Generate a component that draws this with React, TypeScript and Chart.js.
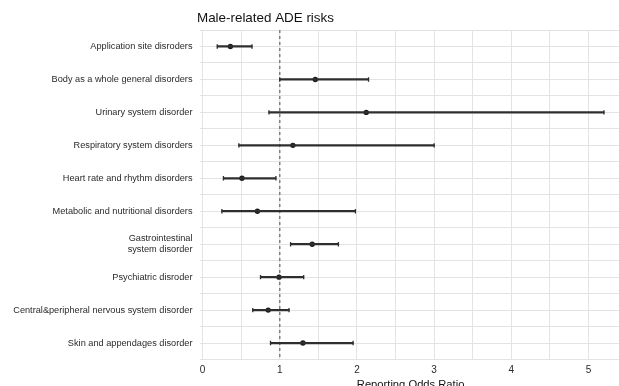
import React, { useEffect, useRef } from "react";
import { Chart, registerables } from "chart.js";

Chart.register(...registerables);

const categories: (string | string[])[] = [
  "Application site disroders",
  "Body as a whole general disorders",
  "Urinary system disorder",
  "Respiratory system disorders",
  "Heart rate and rhythm disorders",
  "Metabolic and nutritional disorders",
  ["Gastrointestinal", "system disorder"],
  "Psychiatric disroder",
  "Central&peripheral nervous system disorder",
  "Skin and appendages disorder",
];
const oddsRatio = [0.36, 1.46, 2.12, 1.17, 0.51, 0.71, 1.42, 0.99, 0.85, 1.3];
const lowerCI = [0.19, 1.0, 0.86, 0.47, 0.27, 0.25, 1.14, 0.75, 0.65, 0.88];
const upperCI = [0.64, 2.15, 5.2, 3.0, 0.95, 1.98, 1.76, 1.31, 1.12, 1.95];
const xTickLabels = [0, 1, 2, 3, 4, 5];
const referenceLine = 1;
const titleText = "Male-related ADE risks";
const xTitle = "Reporting Odds Ratio";

const W = 627;
const H = 392;
const FONT = "'Liberation Sans', Arial, sans-serif";

export default function App() {
  const ref = useRef<HTMLCanvasElement | null>(null);

  useEffect(() => {
    if (!ref.current) return;
    const refLinePlugin = {
      id: "refLine",
      beforeDatasetsDraw(chart: any) {
        const { ctx, chartArea, scales } = chart;
        const x = scales.x.getPixelForValue(referenceLine);
        ctx.save();
        ctx.strokeStyle = "#7a7a7a";
        ctx.lineWidth = 1.4;
        ctx.setLineDash([3, 3]);
        ctx.beginPath();
        ctx.moveTo(x, chartArea.top);
        ctx.lineTo(x, chartArea.bottom);
        ctx.stroke();
        ctx.restore();
      },
    };
    const titlePlugin = {
      id: "leftTitle",
      afterDraw(chart: any) {
        const { ctx, chartArea } = chart;
        ctx.save();
        ctx.fillStyle = "#111";
        ctx.font = `13.4px ${FONT}`;
        ctx.textAlign = "left";
        ctx.textBaseline = "alphabetic";
        ctx.fillText(titleText, chartArea.left - 2.5, 22);
        ctx.restore();
      },
    };

    const chart = new Chart(ref.current, {
      type: "bar",
      data: {
        labels: categories as any,
        datasets: [
          {
            type: "bar",
            data: lowerCI.map((lo, i) => [lo, upperCI[i]]) as any,
            backgroundColor: "#2e2e2e",
            borderWidth: 0,
            barThickness: 1.6,
            xAxisID: "x",
            yAxisID: "y",
          } as any,
          {
            type: "line",
            indexAxis: "y",
            data: lowerCI,
            showLine: false,
            pointStyle: "line",
            rotation: 90,
            pointRadius: 2.2,
            borderWidth: 1.3,
            borderColor: "#2e2e2e",
            xAxisID: "x",
            yAxisID: "y",
          } as any,
          {
            type: "line",
            indexAxis: "y",
            data: upperCI,
            showLine: false,
            pointStyle: "line",
            rotation: 90,
            pointRadius: 2.2,
            borderWidth: 1.3,
            borderColor: "#2e2e2e",
            xAxisID: "x",
            yAxisID: "y",
          } as any,
          {
            type: "line",
            indexAxis: "y",
            data: oddsRatio,
            showLine: false,
            pointStyle: "circle",
            pointRadius: 2.7,
            borderWidth: 0,
            backgroundColor: "#1e1e1e",
            borderColor: "#1e1e1e",
            xAxisID: "x",
            yAxisID: "y",
          } as any,
        ],
      },
      options: {
        indexAxis: "y",
        responsive: false,
        animation: false,
        devicePixelRatio: 1,
        layout: { padding: { top: 30, right: 0, bottom: 0, left: 0 } },
        plugins: {
          legend: { display: false },
          tooltip: { enabled: false },
          title: { display: false },
        },
        scales: {
          x: {
            type: "linear",
            min: -0.04,
            max: 5.43,
            border: { display: false },
            grid: { color: "#e3e3e3", lineWidth: 1, drawTicks: false },
            afterBuildTicks: (s: any) => {
              const t = [];
              for (let v = 0; v <= 5.4; v += 0.5) t.push({ value: v });
              s.ticks = t;
            },
            afterFit: (s: any) => {
              s.height = H - 359.5;
            },
            ticks: {
              padding: 5,
              color: "#2a2a2a",
              font: { family: FONT, size: 10 },
              callback: (v: any) =>
                xTickLabels.includes(Number(v)) ? String(v) : "",
            },
            title: {
              display: true,
              text: xTitle,
              color: "#111",
              font: { family: FONT, size: 11.2 },
              padding: { top: 0, bottom: 0.5 },
            },
          },
          y: {
            type: "category",
            position: "left",
            offset: true,
            border: { display: false },
            grid: { offset: false, color: "#e3e3e3", lineWidth: 1, drawTicks: false },
            afterFit: (s: any) => {
              s.width = 199.5;
            },
            ticks: {
              padding: 7,
              color: "#2a2a2a",
              font: { family: FONT, size: 9.2 },
            },
          },
          y2: {
            type: "category",
            position: "left",
            offset: true,
            border: { display: false },
            grid: { offset: true, color: "#e3e3e3", lineWidth: 1, drawTicks: false },
            ticks: { display: false },
            afterFit: (s: any) => {
              s.width = 0;
            },
          },
        },
      } as any,
      plugins: [refLinePlugin, titlePlugin],
    });
    return () => chart.destroy();
  }, []);

  return (
    <div
      style={{
        position: "fixed",
        left: 0,
        top: 0,
        width: 619,
        height: 386,
        overflow: "hidden",
        background: "#fff",
      }}
    >
      <canvas ref={ref} width={W} height={H} style={{ display: "block" }} />
    </div>
  );
}
